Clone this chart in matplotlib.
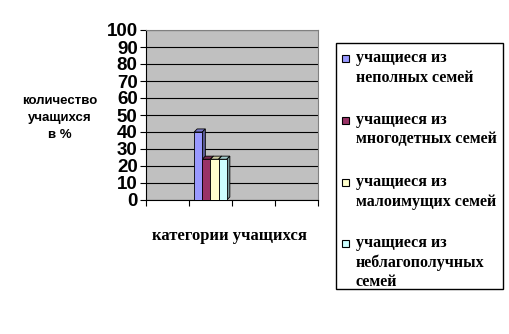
import matplotlib
matplotlib.use("Agg")
import matplotlib.pyplot as plt
from matplotlib.patches import Polygon, Rectangle
import numpy as np

categories = ["", "", "", ""]
series_names = [["учащиеся из", "неполных семей"],
                ["учащиеся из", "многодетных семей"],
                ["учащиеся из", "малоимущих семей"],
                ["учащиеся из", "неблагополучных", "семей"]]
series_values = [[0, 40, 0, 0],
                 [0, 24, 0, 0],
                 [0, 24, 0, 0],
                 [0, 24, 0, 0]]
colors = ["#9999FF", "#993366", "#FFFFCC", "#CCFFFF"]
yticks = [0, 10, 20, 30, 40, 50, 60, 70, 80, 90, 100]
ylabel_lines = ["количество", "учащихся", "в %"]
xlabel = "категории учащихся"

W, H = 510, 334
fig = plt.figure(figsize=(W/100, H/100), dpi=100)
ax = fig.add_axes([146/W, 1-200/H, (318-146)/W, (200-30)/H])
ax.set_facecolor("#C0C0C0")

n = len(series_values)
width = 0.19
x = np.arange(len(categories))
dx, dy = 0.07, 1.8
for i, (vals, c) in enumerate(zip(series_values, colors)):
    pos = x + (i - (n-1)/2) * width
    ax.bar(pos, vals, width, color=c, edgecolor="black", linewidth=0.6, zorder=3)
    rgb = np.array(matplotlib.colors.to_rgb(c))
    for p, v in zip(pos, vals):
        if v <= 0:
            continue
        l, r = p - width/2, p + width/2
        top = Polygon([(l, v), (l+dx, v+dy), (r+dx, v+dy), (r, v)], closed=True,
                      facecolor=tuple(0.8*rgb), edgecolor="black", linewidth=0.6, zorder=2)
        side = Polygon([(r, 0), (r+dx, dy), (r+dx, v+dy), (r, v)], closed=True,
                       facecolor=tuple(0.6*rgb), edgecolor="black", linewidth=0.6, zorder=2)
        ax.add_patch(top)
        ax.add_patch(side)

ax.set_xlim(-0.5, len(categories)-0.5)
ax.set_ylim(0, 100)
ax.set_yticks(yticks)
ax.set_yticklabels([str(t) for t in yticks], fontsize=13.5, fontweight="bold",
                   family="Liberation Sans")
ax.set_xticks(np.arange(len(categories)+1) - 0.5)
ax.set_xticklabels([])
ax.tick_params(axis="x", direction="out", length=4, width=0.8)
ax.tick_params(axis="y", direction="out", length=4, width=0.8, pad=2)
ax.yaxis.grid(True, color="black", linewidth=0.8, zorder=1)
ax.set_axisbelow(True)
for s in ["top", "right"]:
    ax.spines[s].set_color("#808080")
ax.spines["left"].set_color("black")
ax.spines["bottom"].set_color("black")

for k, line in enumerate(ylabel_lines):
    fig.text(60/W, 1-(101+17*k)/H, line, ha="center", va="center",
             fontsize=9.5, fontweight="bold", family="Liberation Sans")
fig.text(230/W, 1-236/H, xlabel, ha="center", va="center",
         fontsize=12, fontweight="bold", family="Liberation Serif")

# legend box
fig.patches.append(Rectangle((336/W, 1-289/H), (503-336)/W, (289-43)/H,
                             transform=fig.transFigure, facecolor="white",
                             edgecolor="black", linewidth=1))
entry_y = [58, 120, 182, 243]
for name, c, y0 in zip(series_names, colors, entry_y):
    fig.patches.append(Rectangle((342/W, 1-(y0+3.5)/H), 7/W, 7/H,
                                 transform=fig.transFigure, facecolor=c,
                                 edgecolor="black", linewidth=0.8))
    for k, line in enumerate(name):
        fig.text(356/W, 1-(y0+19.5*k)/H, line, ha="left", va="center",
                 fontsize=11.5, fontweight="bold", family="Liberation Serif")

fig.savefig("out.png", dpi=100)
